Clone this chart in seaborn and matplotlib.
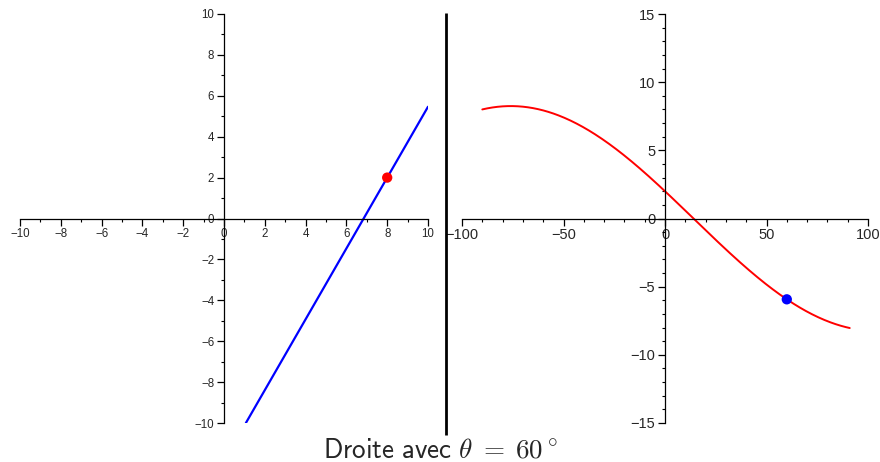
import numpy as np
import pandas as pd
import matplotlib
matplotlib.use("Agg")
import matplotlib.pyplot as plt
from matplotlib.lines import Line2D
from matplotlib.ticker import MultipleLocator
import seaborn as sns

# Point of the plane and the line angle (degrees)
point_x = [8.0]
point_y = [2.0]
theta_deg = 60.0

# Parameter ranges shown
line_y_range = [-10.0, 5.4641]          # y extent of the drawn line
theta_range = [-90.0, 91.0]             # angle axis of the (theta, rho) curve

sns.set_style("white")
plt.rcParams["font.family"] = ["Liberation Sans", "DejaVu Sans"]
plt.rcParams["mathtext.fontset"] = "cm"

fig = plt.figure(figsize=(8.8, 4.62), dpi=100)
ax1 = fig.add_axes([20 / 880, 39 / 462, 408 / 880, 409 / 462])
ax2 = fig.add_axes([462 / 880, 39 / 462, 406 / 880, 409 / 462])

# Left: line through the point with slope tan(theta)
x0, y0 = point_x[0], point_y[0]
t = np.deg2rad(theta_deg)
ys = np.array(line_y_range)
xs = x0 + (ys - y0) / np.tan(t)
sns.lineplot(x=xs, y=ys, ax=ax1, color="#0000ff", linewidth=1.6, sort=False)
sns.scatterplot(x=point_x, y=point_y, ax=ax1, color="#ff0000", s=55,
                edgecolor="none", zorder=5)

# Right: rho(theta) of the lines through the point, perpendicular-form
th = np.linspace(theta_range[0], theta_range[1], 363)
rho = y0 * np.cos(np.deg2rad(th)) - x0 * np.sin(np.deg2rad(th))
df = pd.DataFrame({"theta": th, "rho": rho})
sns.lineplot(data=df, x="theta", y="rho", ax=ax2, color="#ff0000", linewidth=1.4)
rho_sel = y0 * np.cos(t) - x0 * np.sin(t)
sns.scatterplot(x=[theta_deg], y=[rho_sel], ax=ax2, color="#0000ff", s=55,
                edgecolor="none", zorder=5)

def center_axes(ax, xlim, ylim, xmaj, xmin, ymaj, ymin, fs):
    ax.set_xlim(*xlim)
    ax.set_ylim(*ylim)
    ax.set_xlabel("")
    ax.set_ylabel("")
    for s in ("right", "top"):
        ax.spines[s].set_visible(False)
    ax.spines["left"].set_position(("data", 0))
    ax.spines["bottom"].set_position(("data", 0))
    for s in ("left", "bottom"):
        ax.spines[s].set_color("black")
        ax.spines[s].set_linewidth(0.9)
    ax.xaxis.set_major_locator(MultipleLocator(xmaj))
    ax.xaxis.set_minor_locator(MultipleLocator(xmin))
    ax.yaxis.set_major_locator(MultipleLocator(ymaj))
    ax.yaxis.set_minor_locator(MultipleLocator(ymin))
    ax.tick_params(which="major", direction="out", length=5, width=0.9,
                   color="black", labelsize=fs, pad=2,
                   bottom=True, left=True)
    ax.tick_params(which="minor", direction="out", length=2.5, width=0.8,
                   color="black", bottom=True, left=True)
    ax.set_facecolor("none")
    ax.grid(False)

center_axes(ax1, (-10, 10), (-10, 10), 2, 1, 2, 1, 8.3)
center_axes(ax2, (-100, 100), (-15, 15), 50, 10, 5, 1, 10.5)

# Separator between the two panels
fig.add_artist(Line2D([446 / 880, 446 / 880], [27 / 462, 449 / 462],
                      transform=fig.transFigure, color="black", linewidth=2.0,
                      solid_capstyle="butt"))

fig.text(0.5, 5 / 462, r"$\mathsf{Droite\ avec}\ \theta\;=\;\mathsf{60}^\circ$",
         ha="center", va="baseline", fontsize=19.5)

fig.savefig("out.png", dpi=100)
